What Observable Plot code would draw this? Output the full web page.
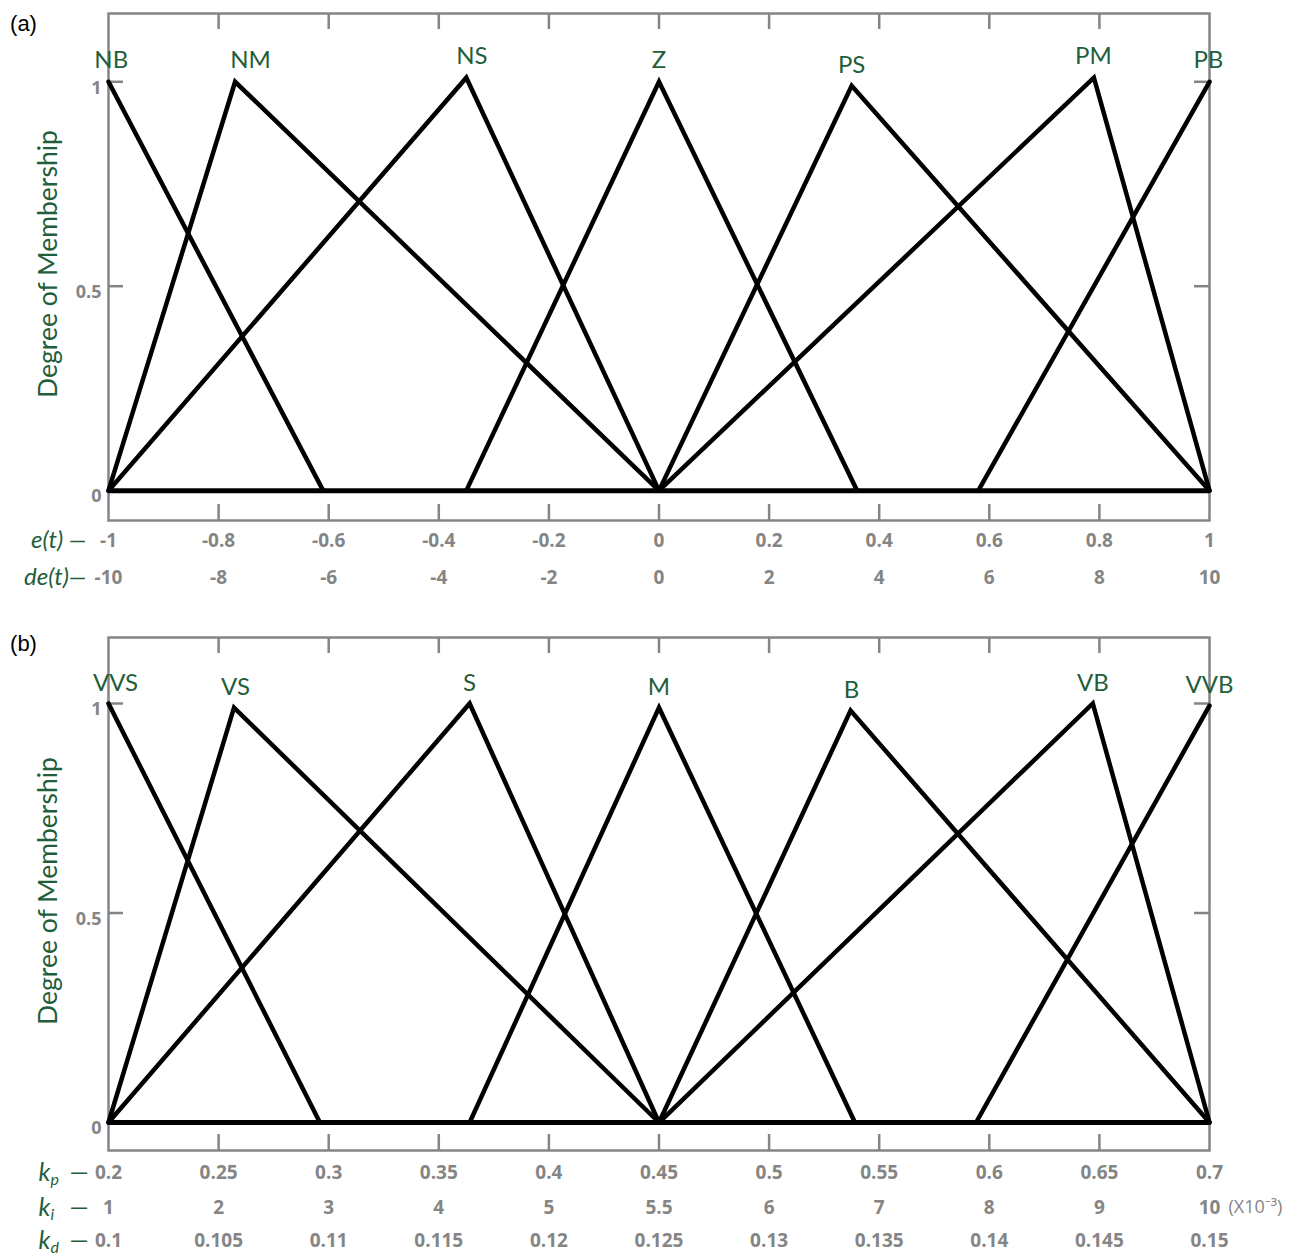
<!DOCTYPE html>
<html>
<head>
<meta charset="utf-8">
<script src="https://cdn.jsdelivr.net/npm/d3@7"></script>
<script src="https://cdn.jsdelivr.net/npm/@observablehq/plot@0.6"></script>
<style>
  body { margin: 0; background: #fff; }
  #chart { width: 1303px; height: 1253px; }
  #chart svg { display: block; }
</style>
</head>
<body>
<div id="chart"></div>
<script>
// ---------- Panel (a): error / error-derivative fuzzy sets ----------
const setsA = ["NB", "NM", "NS", "Z", "PS", "PM", "PB"];
const leftFootA = [-1, -1, -1, -0.35, 0, 0, 0.58];
const peakA = [-1, -0.77, -0.35, 0, 0.35, 0.79, 1];
const rightFootA = [-0.61, 0, 0, 0.36, 1, 1, 1];
const peakHeightA = [1, 1, 1.01, 1, 0.99, 1.01, 1];
const labelXA = [-0.995, -0.742, -0.34, 0, 0.35, 0.789, 0.998];
const eTicks = [-1, -0.8, -0.6, -0.4, -0.2, 0, 0.2, 0.4, 0.6, 0.8, 1];
const eLabels = ["-1", "-0.8", "-0.6", "-0.4", "-0.2", "0", "0.2", "0.4", "0.6", "0.8", "1"];
const deLabels = ["-10", "-8", "-6", "-4", "-2", "0", "2", "4", "6", "8", "10"];

// ---------- Panel (b): PID gain fuzzy sets ----------
const setsB = ["VVS", "VS", "S", "M", "B", "VB", "VVB"];
const leftFootB = [0.2, 0.2, 0.2, 0.364, 0.45, 0.45, 0.594];
const peakB = [0.2, 0.257, 0.364, 0.45, 0.537, 0.647, 0.7];
const rightFootB = [0.296, 0.45, 0.45, 0.539, 0.7, 0.7, 0.7];
const peakHeightB = [1, 0.99, 1, 0.99, 0.983, 1, 0.995];
const labelXB = [0.2032, 0.2577, 0.364, 0.45, 0.5374, 0.647, 0.7];
const kpTicks = [0.2, 0.25, 0.3, 0.35, 0.4, 0.45, 0.5, 0.55, 0.6, 0.65, 0.7];
const kpLabels = ["0.2", "0.25", "0.3", "0.35", "0.4", "0.45", "0.5", "0.55", "0.6", "0.65", "0.7"];
const kiLabels = ["1", "2", "3", "4", "5", "5.5", "6", "7", "8", "9", "10"];
const kdLabels = ["0.1", "0.105", "0.11", "0.115", "0.12", "0.125", "0.13", "0.135", "0.14", "0.145", "0.15"];

const yTicks = [0, 0.5, 1];
const yLabels = ["0", "0.5", "1"];

// ---------- styling ----------
const W = 1303;
const gray = "#858585";
const green = "#1f5e3a";
const font = "Lato, 'Open Sans', sans-serif";
const numFont = "'Open Sans', Lato, sans-serif";

function triPoints(sets, lf, pk, rf, ph) {
  const pts = [];
  sets.forEach((s, i) => {
    if (lf[i] !== pk[i]) pts.push({set: s, x: lf[i], y: 0});
    pts.push({set: s, x: pk[i], y: ph[i]});
    if (rf[i] !== pk[i]) pts.push({set: s, x: rf[i], y: 0});
  });
  return pts;
}

function panel(o) {
  const frameW = W - o.ml - o.mr;
  const frameH = o.height - o.mt - o.mb;
  const inner = o.xTicks.slice(1, -1);
  const marks = [
    Plot.frame({stroke: gray, strokeWidth: 2.5}),
    Plot.tickX(inner, {x: d => d, stroke: gray, strokeWidth: 2.5, insetTop: frameH - 16}),
    Plot.tickX(inner, {x: d => d, stroke: gray, strokeWidth: 2.5, insetBottom: frameH - 16}),
    Plot.tickY(yTicks, {y: d => d, stroke: gray, strokeWidth: 2.5, insetRight: frameW - 15}),
    Plot.tickY(yTicks, {y: d => d, stroke: gray, strokeWidth: 2.5, insetLeft: frameW - 15}),
    Plot.text(yTicks, {y: d => d, text: (d, i) => yLabels[i], frameAnchor: "left", dx: -7, dy: 6,
      textAnchor: "end", lineAnchor: "middle", fill: gray, fontWeight: "bold", fontSize: 18, fontFamily: numFont}),
    Plot.ruleY([0], {stroke: "black", strokeWidth: 5}),
    Plot.line(o.pts, {x: "x", y: "y", z: "set", stroke: "black", strokeWidth: 4.5,
      strokeLinejoin: "miter", strokeMiterlimit: 10}),
    Plot.text(o.sets, {x: (d, i) => o.labelX[i], y: (d, i) => o.peakH[i], text: d => d, dy: o.labelDy,
      textAnchor: "middle", lineAnchor: "middle", fill: green, fontSize: 24, fontFamily: font}),
    ...o.rows.map(r => Plot.text(o.xTicks, {x: d => d, text: (d, i) => r.labels[i], frameAnchor: "bottom",
      dy: r.dy, textAnchor: "middle", lineAnchor: "middle", fill: gray, fontWeight: "bold", fontSize: 19, fontFamily: numFont})),
    ...o.extra,
    Plot.text(["Degree of Membership"], {text: d => d, frameAnchor: "left", dx: -60, dy: -3, rotate: -90,
      textAnchor: "middle", lineAnchor: "middle", fill: green, fontSize: 26.5, fontFamily: font}),
    Plot.text([o.tag], {text: d => d, frameAnchor: "top-left", dx: -85, dy: o.tagDy, textAnchor: "middle",
      lineAnchor: "middle", fill: "black", fontSize: 22, fontFamily: "'Liberation Sans', Arial, sans-serif"})
  ];
  return Plot.plot({
    width: W, height: o.height,
    marginLeft: o.ml, marginRight: o.mr, marginTop: o.mt, marginBottom: o.mb,
    x: {domain: o.xDomain, axis: null},
    y: {domain: o.yDomain, axis: null},
    style: {background: "white", overflow: "visible"},
    marks
  });
}

const rowName = (txt, dy) => Plot.text([txt], {text: d => d, frameAnchor: "bottom-left", dx: -22, dy,
  textAnchor: "end", lineAnchor: "middle", fill: green, fontStyle: "italic", fontSize: 24, fontFamily: font});

const kName = (sub, dy) => [
  Plot.text(["k"], {text: d => d, frameAnchor: "bottom-left", dx: -64, dy, textAnchor: "middle",
    lineAnchor: "middle", fill: green, fontStyle: "italic", fontSize: 25, fontFamily: font}),
  Plot.text([sub], {text: d => d, frameAnchor: "bottom-left", dx: -58, dy: dy + 7, textAnchor: "start",
    lineAnchor: "middle", fill: green, fontStyle: "italic", fontSize: 16, fontFamily: font}),
  Plot.text(["—"], {text: d => d, frameAnchor: "bottom-left", dx: -20, dy, textAnchor: "end",
    lineAnchor: "middle", fill: green, fontSize: 24, fontFamily: font})
];

const plotA = panel({
  height: 605, ml: 108, mr: 94, mt: 13, mb: 85,
  xDomain: [-1, 1], yDomain: [-0.073, 1.167],
  xTicks: eTicks,
  pts: triPoints(setsA, leftFootA, peakA, rightFootA, peakHeightA),
  sets: setsA, labelX: labelXA, peakH: peakHeightA, labelDy: -21,
  rows: [{labels: eLabels, dy: 20}, {labels: deLabels, dy: 57}],
  extra: [rowName("e(t) —", 20), rowName("de(t)—", 57)],
  tag: "(a)", tagDy: 10
});

const plotB = panel({
  height: 648, ml: 108, mr: 94, mt: 32, mb: 103,
  xDomain: [0.2, 0.7], yDomain: [-0.0668, 1.1575],
  xTicks: kpTicks,
  pts: triPoints(setsB, leftFootB, peakB, rightFootB, peakHeightB),
  sets: setsB, labelX: labelXB, peakH: peakHeightB, labelDy: -20,
  rows: [{labels: kpLabels, dy: 22}, {labels: kiLabels, dy: 57}, {labels: kdLabels, dy: 90}],
  extra: [
    ...kName("p", 22), ...kName("i", 57), ...kName("d", 90),
    Plot.text(["(X10⁻³)"], {text: d => d, frameAnchor: "bottom-right", dx: 19, dy: 57, textAnchor: "start",
      lineAnchor: "middle", fill: gray, fontSize: 18, fontFamily: numFont})
  ],
  tag: "(b)", tagDy: 6
});

document.getElementById("chart").append(plotA, plotB);
</script>
</body>
</html>
